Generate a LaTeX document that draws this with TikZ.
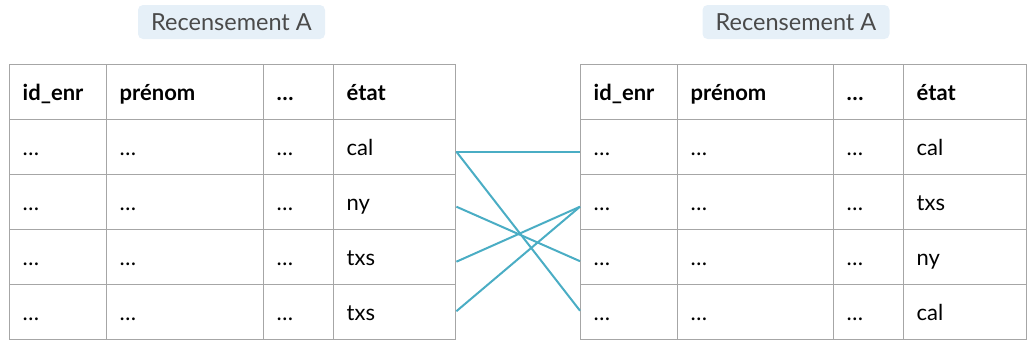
\documentclass[tikz,border=0pt]{standalone}
\usepackage{fontspec}
\setmainfont{Lato}
\definecolor{tablegray}{HTML}{A6A6A6}
\definecolor{linkteal}{HTML}{4AADC4}
\definecolor{titlefill}{HTML}{E6F0F8}
\definecolor{titletext}{HTML}{4A4A4A}
\tikzset{
  cell/.style={draw=tablegray, line width=1.4pt, minimum height=55pt, inner xsep=13pt, inner ysep=0pt,
    text height=17pt, text depth=0pt, align=left, anchor=north west, font=\fontsize{22}{26}\selectfont},
  headcell/.style={cell, font=\fontsize{22}{26}\selectfont\bfseries},
  titlebox/.style={fill=titlefill, rounded corners=5pt, minimum width=187pt, minimum height=34pt,
    inner sep=0pt, text=titletext, font=\fontsize{23.5}{27}\selectfont},
  link/.style={draw=linkteal, line width=2pt}
}
\begin{document}
\begin{tikzpicture}[x=1pt,y=-1pt]
\useasboundingbox (0,0) rectangle (1029,348);
% titles
\node[titlebox] (titleL) at (231.5,22) {Recensement A};
\node[titlebox] (titleR) at (796,22) {Recensement A};
% left table
\node[headcell, text width=71pt] (LH1) at (9,64) {id\_enr};
\node[headcell, text width=131pt] (LH2) at (106,64) {prénom};
\node[headcell, text width=44pt] (LH3) at (263,64) {…};
\node[headcell, text width=96pt] (LH4) at (333,64) {état};
\foreach \r/\v in {1/cal,2/ny,3/txs,4/txs}{
  \node[cell, text width=71pt] (LA\r) at (9,{64+55*\r}) {…};
  \node[cell, text width=131pt] (LB\r) at (106,{64+55*\r}) {…};
  \node[cell, text width=44pt] (LC\r) at (263,{64+55*\r}) {…};
  \node[cell, text width=96pt] (LE\r) at (333,{64+55*\r}) {\v};
}
% right table
\node[headcell, text width=71pt] (RH1) at (580,64) {id\_enr};
\node[headcell, text width=130pt] (RH2) at (677,64) {prénom};
\node[headcell, text width=44pt] (RH3) at (833,64) {…};
\node[headcell, text width=97pt] (RH4) at (903,64) {état};
\foreach \r/\v in {1/cal,2/txs,3/ny,4/cal}{
  \node[cell, text width=71pt] (RA\r) at (580,{64+55*\r}) {…};
  \node[cell, text width=130pt] (RB\r) at (677,{64+55*\r}) {…};
  \node[cell, text width=44pt] (RC\r) at (833,{64+55*\r}) {…};
  \node[cell, text width=97pt] (RE\r) at (903,{64+55*\r}) {\v};
}
% links
\draw[link] ([yshift=-4.5pt]LE1.east) -- ([yshift=-4.5pt]RA1.west);
\draw[link] ([yshift=-4.5pt]LE1.east) -- ([yshift=1.5pt]RA4.west);
\draw[link] ([yshift=-4.5pt]LE2.east) -- ([yshift=-4pt]RA3.west);
\draw[link] ([yshift=-4.5pt]LE3.east) -- ([yshift=-4.5pt]RA2.west);
\draw[link] ([yshift=1pt]LE4.east) -- ([yshift=-4.5pt]RA2.west);
\end{tikzpicture}
\end{document}
